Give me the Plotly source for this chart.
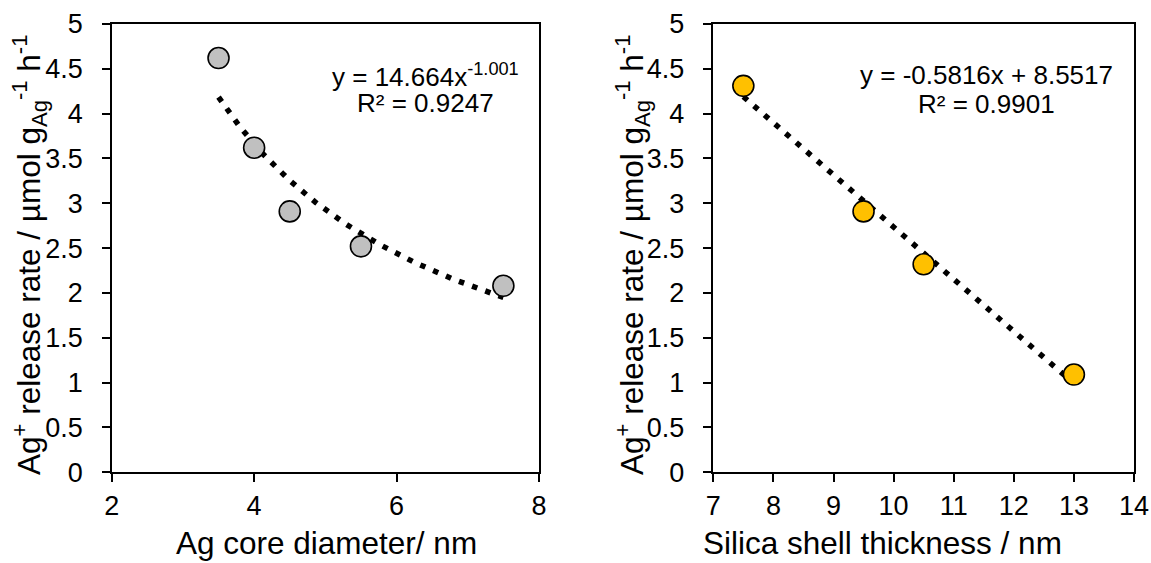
import numpy as np
import plotly.graph_objects as go

# Data
core_diameter = [3.5, 4.0, 4.5, 5.5, 7.5]
core_rate = [4.62, 3.62, 2.91, 2.52, 2.08]
shell_thickness = [7.5, 9.5, 10.5, 13.0]
shell_rate = [4.31, 2.91, 2.32, 1.09]

# Trendline coefficients (as printed on chart)
pow_a, pow_b = 14.664, -1.001
lin_m, lin_c = -0.5816, 8.5517

left_ticks_x = [2, 4, 6, 8]
right_ticks_x = [7, 8, 9, 10, 11, 12, 13, 14]
y_ticks = [0, 0.5, 1, 1.5, 2, 2.5, 3, 3.5, 4, 4.5, 5]
y_tick_labels = ["0", "0.5", "1", "1.5", "2", "2.5", "3", "3.5", "4", "4.5", "5"]

W, H = 1151, 563
FONT = "Liberation Sans, Arial, sans-serif"

xt1 = np.linspace(min(core_diameter), max(core_diameter), 300)
yt1 = pow_a * xt1 ** pow_b
xt2 = np.linspace(min(shell_thickness), max(shell_thickness), 300)
yt2 = lin_m * xt2 + lin_c

trend_line = dict(color="black", width=5.5, dash="5.5px,8.5px")

fig = go.Figure()
fig.add_trace(go.Scatter(x=xt1, y=yt1, mode="lines", xaxis="x", yaxis="y",
                         line=trend_line, hoverinfo="skip", showlegend=False))
fig.add_trace(go.Scatter(x=core_diameter, y=core_rate, mode="markers", xaxis="x", yaxis="y",
                         marker=dict(size=21, color="#C0C0C0", line=dict(color="black", width=1.6)),
                         showlegend=False))
fig.add_trace(go.Scatter(x=xt2, y=yt2, mode="lines", xaxis="x2", yaxis="y2",
                         line=trend_line, hoverinfo="skip", showlegend=False))
fig.add_trace(go.Scatter(x=shell_thickness, y=shell_rate, mode="markers", xaxis="x2", yaxis="y2",
                         marker=dict(size=21, color="#FFC000", line=dict(color="black", width=1.6)),
                         showlegend=False))

ydom = [1 - 472.3 / H, 1 - 24 / H]
axis_common = dict(showgrid=False, zeroline=False, showline=True, linecolor="black", linewidth=2,
                   mirror=True, ticks="outside", ticklen=8, tickwidth=2, tickcolor="black",
                   automargin=False,
                   tickfont=dict(family=FONT, size=27, color="black"))

# pad y labels away from the axis (spacing only)
y_text = [t + "\u2002" for t in y_tick_labels]

fig.update_layout(
    width=W, height=H,
    margin=dict(l=0, r=0, t=0, b=0),
    paper_bgcolor="white", plot_bgcolor="white",
    font=dict(family=FONT, color="black"),
    xaxis=dict(domain=[111.7 / W, 539 / W], range=[2, 8], tickvals=left_ticks_x, anchor="y", **axis_common),
    yaxis=dict(domain=ydom, range=[0, 5], tickvals=y_ticks, ticktext=y_text, anchor="x", **axis_common),
    xaxis2=dict(domain=[713.3 / W, 1134 / W], range=[7, 14], tickvals=right_ticks_x, anchor="y2", **axis_common),
    yaxis2=dict(domain=ydom, range=[0, 5], tickvals=y_ticks, ticktext=y_text, anchor="x2", **axis_common),
)

ytitle = "Ag<sup>+</sup> release rate / µmol g<sub>Ag</sub><sup>-1</sup> h<sup>-1</sup>"
ann = [
    dict(text="Ag core diameter/ nm", x=326 / W, y=1 - 543 / H, size=31.5, angle=0),
    dict(text="Silica shell thickness / nm", x=883 / W, y=1 - 543 / H, size=31.5, angle=0),
    dict(text=ytitle, x=29 / W, y=1 - 255 / H, size=31.5, angle=-90),
    dict(text=ytitle, x=632 / W, y=1 - 255 / H, size=31.5, angle=-90),
    dict(text="y = 14.664x<sup>-1.001</sup>", x=425 / W, y=1 - 75 / H, size=26, angle=0),
    dict(text="R² = 0.9247", x=425 / W, y=1 - 103 / H, size=26, angle=0),
    dict(text="y = -0.5816x + 8.5517", x=986 / W, y=1 - 75 / H, size=26, angle=0),
    dict(text="R² = 0.9901", x=986 / W, y=1 - 104 / H, size=26, angle=0),
]
for a in ann:
    fig.add_annotation(text=a["text"], x=a["x"], y=a["y"], xref="paper", yref="paper",
                       xanchor="center", yanchor="middle", showarrow=False, textangle=a["angle"],
                       font=dict(family=FONT, size=a["size"], color="black"))

fig.write_html("out.html")
